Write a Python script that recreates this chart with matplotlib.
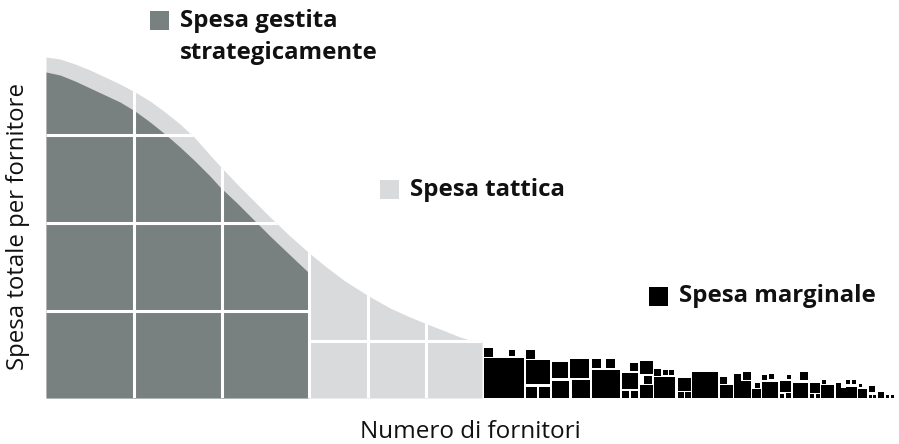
import matplotlib
matplotlib.use('Agg')
import matplotlib.pyplot as plt

plt.rcParams['font.family'] = ['Open Sans', 'DejaVu Sans']

# total spend per supplier (top of the light area)
tot_x = [0, 14, 29, 44, 59, 74, 89, 104, 119, 134, 149, 164, 174, 191, 207,
         224, 244, 262, 279, 299, 321, 344, 364, 381, 399, 414, 427, 436]
tot_y = [341, 339, 334, 328, 321, 314, 306, 297, 286, 274, 260, 243, 232, 214, 198,
         181, 162, 146, 132, 117, 103, 90, 81, 74, 67, 61, 57, 57]

# strategically managed spend (dark area)
strat_x = [0, 14, 29, 44, 59, 74, 89, 104, 119, 134, 149, 164, 174, 191, 207,
           224, 244, 262]
strat_y = [326, 323, 317, 310, 303, 296, 287, 276, 264, 251, 237, 222, 211, 195, 179,
           162, 143, 126]

# grid of the blocks
grid_x = [88, 176, 263, 322, 380]
strat_rows = [87.5, 175, 262.5]
tact_rows = [57]

# marginal spend: small suppliers (left, bottom, size)
sq_x = [438, 438, 463, 480, 480, 480, 493, 506, 506, 524, 526, 546, 560, 546,
        576, 576, 585, 584, 594, 598, 594, 608, 617, 623, 608, 632, 632, 639,
        646, 674, 674, 688, 697, 688, 706, 709, 716, 723, 716, 734, 741, 734,
        740, 747, 754, 764, 764, 770, 776, 775, 790, 790, 800, 806, 800, 813,
        812, 823, 823, 827, 832, 840, 845]
sq_y = [0, 41, 42, 39, 14, 0, 0, 20, 0, 20, 0, 30, 30, 0,
        9, 0, 0, 27, 24, 14, 0, 22, 23, 23, 0, 7, 0, 0,
        0, 14, 0, 17, 18, 0, 0, 10, 18, 19, 0, 6, 19, 0,
        0, 0, 18, 5, 0, 0, 14, 0, 10, 0, 14, 14, 0, 11,
        0, 6, 0, 0, 0, 0, 0]
sq_s = [40, 9, 6, 9, 24, 11, 11, 16, 17, 19, 18, 9, 9, 28,
        16, 7, 7, 8, 13, 8, 13, 7, 5, 5, 21, 13, 6, 6,
        26, 7, 13, 7, 8, 17, 9, 5, 5, 5, 16, 11, 4, 4,
        5, 15, 8, 10, 4, 4, 4, 13, 5, 10, 4, 4, 11, 3,
        9, 6, 3, 3, 6, 3, 3]

dark = '#798080'
light = '#d9dadb'

fig = plt.figure(figsize=(8.99, 4.44), dpi=100)
ax = fig.add_axes([46 / 899, 46 / 444, 853 / 899, 398 / 444])
ax.set_xlim(0, 853)
ax.set_ylim(0, 398)
ax.axis('off')

light_poly = ax.fill_between(tot_x, tot_y, 0, color=light, lw=0)
ax.fill_between(strat_x, strat_y, 0, color=dark, lw=0)

clip = light_poly.get_paths()[0]
lines = [
    ax.vlines(grid_x, 0, 400, color='white', lw=2.2),
    ax.hlines(strat_rows, 0, 263, color='white', lw=2.2),
    ax.hlines(tact_rows, 263, 436, color='white', lw=2.2),
]
for lc in lines:
    lc.set_clip_path(clip, ax.transData)

ax.bar(sq_x, sq_s, width=sq_s, bottom=sq_y, align='edge', color='black', lw=0)

# legend labels
def key(x, y, color, lines_txt):
    fig.add_artist(plt.Rectangle((x / 899, 1 - (y + 9.5) / 444), 19 / 899, 19 / 444,
                                 transform=fig.transFigure, color=color, lw=0))
    for i, t in enumerate(lines_txt):
        fig.text((x + 30) / 899, 1 - (y + 32 * i) / 444, t, va='center',
                 ha='left', fontsize=17.3, fontweight='bold', color='#111111')

key(150, 21, dark, ['Spesa gestita', 'strategicamente'])
key(380, 190, light, ['Spesa tattica'])
key(649, 296, 'black', ['Spesa marginale'])

fig.text(470 / 899, 1 - 432 / 444, 'Numero di fornitori', ha='center', va='center',
         fontsize=17.5, color='#111111')
fig.text(18 / 899, 1 - 226 / 444, 'Spesa totale per fornitore', ha='center',
         va='center', rotation=90, fontsize=17.3, color='#111111')

fig.savefig('out.png', dpi=100)
